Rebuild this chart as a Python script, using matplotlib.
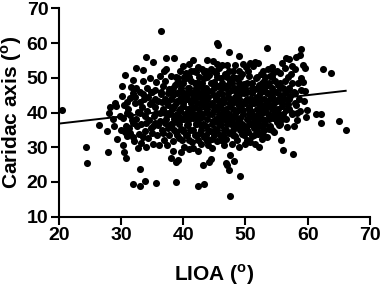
import numpy as np
import matplotlib
matplotlib.use("Agg")
import matplotlib.pyplot as plt

plt.rcParams['font.family'] = ['Liberation Sans', 'DejaVu Sans']
plt.rcParams['font.weight'] = 'bold'
plt.rcParams['mathtext.fontset'] = 'custom'
plt.rcParams['mathtext.bf'] = 'Liberation Sans:bold'
plt.rcParams['mathtext.rm'] = 'Liberation Sans:bold'

# LIOA (x) and cardiac axis (y), grouped by x band
pts = [
    # 20-29
    (20.6, 40.7), (24.4, 30.0), (24.6, 25.4), (26.4, 36.4),
    (27.7, 34.8), (28.0, 28.7), (28.1, 40.0), (28.3, 41.5), (28.8, 38.0),
    (29.0, 42.6), (29.2, 42.0), (29.3, 32.3), (28.9, 36.1),
    # 29-31
    (29.8, 39.0), (30.0, 35.0), (30.1, 47.7), (30.3, 38.3), (30.4, 30.7),
    (30.5, 28.7), (30.6, 34.3), (30.7, 50.8), (30.8, 26.8), (30.9, 33.3),
    (30.5, 42.2), (30.2, 44.8), (30.8, 36.0),
    # 31-33
    (31.2, 41.0), (31.3, 35.5), (31.5, 44.2), (31.6, 47.3), (31.7, 37.9),
    (31.9, 45.7), (31.9, 19.4), (32.0, 33.0), (32.1, 31.7), (32.2, 42.8),
    (32.4, 52.9), (32.4, 47.0), (32.5, 38.2), (32.6, 36.1), (32.8, 40.1),
    (32.9, 33.8), (32.7, 29.9), (31.5, 39.4), (32.3, 44.5), (32.0, 49.5),
    # 33-35
    (33.1, 18.8), (33.1, 23.6), (33.2, 31.2), (33.3, 36.8), (33.4, 41.6),
    (33.5, 52.3), (33.5, 45.2), (33.6, 49.0), (33.7, 43.8), (33.8, 39.1),
    (33.9, 20.4), (33.9, 34.6), (34.0, 30.2), (34.1, 55.9), (34.2, 47.0),
    (34.3, 44.5), (34.4, 32.7), (34.5, 37.8), (34.6, 42.5), (34.7, 50.0),
    (34.8, 35.6), (34.2, 40.5), (33.6, 33.0), (34.9, 45.8),
    # 35-37
    (35.1, 54.6), (35.2, 31.0), (35.3, 38.9), (35.4, 41.7), (35.5, 46.5),
    (35.6, 48.9), (35.7, 19.6), (35.8, 33.6), (35.9, 36.4), (36.0, 43.2),
    (36.1, 30.5), (36.2, 50.4), (36.3, 39.9), (36.4, 45.3), (36.5, 63.6),
    (36.6, 35.0), (36.7, 47.6), (36.8, 41.0), (36.9, 32.0), (35.5, 44.0),
    (36.3, 37.5), (36.9, 52.0), (35.2, 36.0),
    # 37-39
    (37.0, 49.2), (37.1, 44.0), (37.2, 38.1), (37.3, 55.8), (37.4, 30.7),
    (37.5, 35.5), (37.6, 42.3), (37.7, 46.9), (37.8, 33.4), (37.9, 40.0),
    (38.0, 27.0), (38.1, 50.6), (38.2, 36.8), (38.3, 44.9), (38.4, 31.8),
    (38.5, 55.8), (38.6, 39.0), (38.7, 48.0), (38.8, 20.1), (38.9, 25.7),
    (38.9, 34.5), (38.6, 42.0), (38.0, 46.0), (37.3, 52.5), (38.4, 29.0),
    # 39-41
    (39.0, 43.4), (39.1, 37.3), (39.2, 26.3), (39.2, 50.0), (39.3, 32.6),
    (39.4, 46.0), (39.5, 40.5), (39.6, 28.5), (39.7, 35.2), (39.8, 48.5),
    (39.9, 42.0), (40.0, 53.5), (40.1, 30.0), (40.2, 38.0), (40.3, 44.8),
    (40.4, 33.5), (40.5, 51.5), (40.6, 36.3), (40.7, 47.2), (40.8, 41.0),
    (40.9, 29.6), (41.0, 54.0), (40.4, 49.8), (39.6, 44.2), (40.0, 34.8),
    (40.6, 39.3), (39.3, 38.8), (40.9, 45.5),
    # 41-43
    (41.1, 35.0), (41.2, 43.6), (41.3, 49.0), (41.4, 31.5), (41.5, 38.5),
    (41.6, 55.1), (41.7, 46.0), (41.8, 41.2), (41.9, 33.6), (42.0, 51.8),
    (42.1, 36.8), (42.2, 44.4), (42.3, 18.9), (42.3, 28.8), (42.4, 53.0),
    (42.5, 40.0), (42.6, 47.7), (42.7, 34.2), (42.8, 42.6), (42.9, 31.0),
    (43.0, 52.5), (41.3, 40.3), (41.9, 48.5), (42.4, 37.8), (42.8, 45.5),
    (41.5, 29.8), (42.0, 39.2), (42.6, 50.3), (41.2, 52.0), (42.9, 36.5),
    (41.7, 44.8),
    # 43-45
    (43.1, 38.8), (43.2, 45.2), (43.2, 25.0), (43.3, 49.8), (43.4, 19.4),
    (43.4, 33.0), (43.5, 41.5), (43.6, 47.0), (43.7, 36.0), (43.8, 55.1),
    (43.9, 43.8), (44.0, 30.5), (44.1, 50.8), (44.2, 25.8), (44.2, 39.6),
    (44.3, 34.8), (44.4, 26.5), (44.4, 46.2), (44.5, 52.6), (44.6, 42.3),
    (44.7, 32.3), (44.8, 54.7), (44.8, 37.6), (44.9, 48.8), (43.6, 40.1),
    (44.0, 44.6), (43.3, 51.8), (44.6, 29.7), (43.8, 31.9), (44.9, 45.0),
    # 45-47
    (45.0, 40.8), (45.1, 35.2), (45.2, 51.5), (45.3, 44.0), (45.4, 59.9),
    (45.5, 54.1), (45.6, 59.4), (45.5, 31.8), (45.6, 47.5), (45.7, 38.7),
    (45.8, 42.5), (45.9, 33.6), (46.0, 49.8), (46.1, 36.4), (46.2, 53.8),
    (46.3, 45.4), (46.4, 40.0), (46.5, 30.6), (46.6, 43.0), (46.7, 51.0),
    (46.8, 25.4), (46.8, 35.0), (46.9, 47.0), (47.0, 24.9), (47.0, 53.8),
    (45.3, 37.6), (46.0, 41.2), (46.5, 38.2), (45.8, 52.7), (46.9, 32.5),
    # 47-49
    (47.1, 39.4), (47.2, 44.6), (47.3, 23.4), (47.3, 57.5), (47.4, 34.0),
    (47.5, 49.2), (47.6, 16.0), (47.6, 41.8), (47.7, 36.6), (47.8, 46.5),
    (47.9, 31.0), (48.0, 52.0), (48.1, 25.9), (48.1, 38.6), (48.2, 43.0),
    (48.3, 44.6), (48.4, 33.2), (48.5, 49.9), (48.6, 40.5), (48.7, 35.8),
    (48.8, 47.0), (48.9, 30.2), (49.0, 56.4), (49.0, 42.0), (49.1, 21.8),
    (47.5, 27.8), (48.4, 53.8), (47.8, 38.0), (48.8, 37.4), (47.2, 48.0),
    # 49-51
    (49.2, 38.5), (49.3, 45.5), (49.4, 33.8), (49.5, 51.0), (49.6, 54.0),
    (49.6, 40.8), (49.7, 36.2), (49.8, 48.3), (49.9, 30.8), (50.0, 43.2),
    (50.1, 53.0), (50.2, 38.0), (50.3, 46.0), (50.4, 34.5), (50.5, 41.5),
    (50.6, 50.5), (50.7, 31.5), (50.8, 54.2), (50.8, 44.0), (50.9, 36.8),
    (51.0, 48.5), (49.3, 42.3), (50.0, 35.5), (50.5, 39.6), (49.5, 47.0),
    (50.9, 40.3), (51.0, 33.2),
    # 51-53
    (51.1, 39.0), (51.2, 53.5), (51.3, 42.8), (51.4, 35.4), (51.5, 46.8),
    (51.6, 54.5), (51.6, 31.0), (51.7, 50.0), (51.8, 38.2), (51.9, 44.5),
    (52.0, 54.3), (52.0, 33.8), (52.1, 41.0), (52.2, 48.0), (52.3, 36.5),
    (52.4, 43.5), (52.5, 51.2), (52.6, 39.8), (52.7, 32.5), (52.8, 46.3),
    (52.9, 35.0), (53.0, 44.0), (51.4, 37.0), (52.2, 30.0), (52.8, 41.8),
    (53.0, 49.0),
    # 53-55
    (53.1, 40.5), (53.2, 37.8), (53.3, 47.5), (53.4, 58.5), (53.4, 43.0),
    (53.5, 33.0), (53.6, 52.6), (53.7, 45.5), (53.8, 39.2), (53.9, 50.5),
    (54.0, 36.0), (54.1, 42.0), (54.2, 53.2), (54.3, 47.0), (54.4, 38.5),
    (54.5, 44.3), (54.6, 34.5), (54.7, 49.2), (54.8, 41.0), (54.9, 46.0),
    (55.0, 37.2), (53.8, 35.3), (54.5, 51.5), (53.5, 41.5),
    # 55-57
    (55.1, 43.2), (55.2, 48.0), (55.3, 39.5), (55.5, 45.0), (55.6, 51.5),
    (55.7, 32.1), (55.8, 54.3), (55.8, 42.0), (55.9, 38.2), (56.0, 29.2),
    (56.0, 47.0), (56.2, 44.0), (56.3, 52.8), (56.5, 55.8), (56.5, 40.8),
    (56.7, 35.7), (56.8, 46.5), (57.0, 55.5), (56.9, 42.5), (55.4, 36.5),
    (56.4, 49.0),
    # 57-59
    (57.2, 44.8), (57.3, 51.0), (57.5, 40.0), (57.7, 28.1), (57.8, 36.1),
    (57.8, 46.0), (58.0, 52.5), (58.1, 42.3), (58.2, 55.9), (58.3, 39.8),
    (58.5, 48.5), (58.6, 44.0), (58.7, 56.5), (58.8, 40.5), (58.9, 50.0),
    (59.0, 58.4), (59.0, 46.5), (57.5, 53.5), (58.3, 37.8),
    # 59-61
    (59.2, 53.8), (59.3, 48.8), (59.4, 43.4), (59.5, 46.2), (59.7, 38.6),
    (59.9, 40.7), (59.5, 52.7),
    # 61+
    (61.4, 39.5), (62.1, 37.0), (62.2, 39.5), (62.4, 52.4), (63.7, 51.3),
    (65.1, 37.6), (66.1, 35.1),
]

# the dense middle of the cloud, read row by row (y value, x positions)
core_rows = {
    52.0: [39.5, 41.8, 43.6, 45.0, 47.3, 49.0, 50.4, 52.8, 55.0],
    50.2: [38.8, 40.2, 41.0, 43.8, 45.4, 47.0, 48.0, 49.2, 51.8, 53.2, 54.2, 56.8],
    48.6: [39.0, 40.0, 42.2, 43.0, 44.5, 46.2, 47.8, 49.0, 50.2, 52.6, 53.8, 55.6, 57.4],
    47.0: [38.4, 39.6, 41.0, 42.0, 43.2, 45.0, 46.3, 48.2, 49.9, 51.0, 52.0, 53.0, 55.5, 57.0],
    45.6: [37.6, 39.0, 40.2, 41.4, 42.6, 43.7, 45.8, 47.2, 48.6, 49.8, 51.0, 52.3, 53.5, 54.2, 56.3, 58.0],
    44.0: [38.0, 39.5, 40.6, 41.8, 43.0, 45.5, 46.4, 47.5, 49.0, 50.2, 51.5, 52.5, 54.0, 55.4, 57.0],
    42.6: [37.4, 38.8, 40.0, 41.2, 42.2, 43.6, 44.6, 46.0, 47.5, 48.8, 50.0, 51.0, 52.2, 53.4, 54.6, 55.8, 58.0],
    41.0: [38.2, 39.5, 41.0, 42.6, 43.8, 45.2, 46.8, 48.0, 49.2, 50.6, 51.8, 53.0, 54.2, 55.2, 57.0],
    39.6: [37.8, 39.0, 40.3, 41.6, 43.0, 44.6, 45.8, 47.3, 48.4, 49.6, 51.0, 52.0, 53.6, 54.6, 56.0, 57.5],
    38.0: [38.5, 39.8, 41.0, 42.3, 43.8, 45.2, 46.3, 47.4, 49.0, 50.4, 51.4, 52.6, 53.8, 55.0, 56.5],
    36.6: [38.0, 39.4, 40.7, 42.0, 43.2, 44.6, 45.8, 47.0, 48.2, 49.4, 50.6, 52.0, 53.2, 55.5],
    35.0: [38.6, 40.0, 41.6, 42.8, 44.0, 45.5, 46.5, 48.0, 49.2, 50.2, 51.8, 53.0, 54.2],
    33.5: [39.0, 40.6, 42.2, 43.6, 45.0, 46.4, 48.0, 49.8, 51.4, 52.8],
    32.0: [39.8, 41.0, 42.4, 44.2, 46.0, 48.6, 50.2],
    46.0: [33.0, 35.0, 36.5],
    43.0: [31.0, 33.0, 35.0, 36.6],
    40.0: [31.0, 33.0, 35.6, 37.0],
    37.0: [32.0, 34.0, 35.5, 37.0],
    34.0: [31.5, 35.0, 36.8],
}

lioa = np.array([p[0] for p in pts] + [x for xs in core_rows.values() for x in xs])
axis_deg = np.array([p[1] for p in pts] + [y for y, xs in core_rows.items() for _ in xs])

# regression line as drawn in the figure
fit_slope = 0.205
fit_intercept = 32.7

fig = plt.figure(figsize=(3.81, 2.87), dpi=100)
ax = fig.add_axes([0.154, 0.245, 0.817, 0.726])

ax.scatter(lioa, axis_deg, s=26, color='black', linewidths=0, zorder=3)
xl = np.array([20, lioa.max()])
ax.plot(xl, fit_slope * xl + fit_intercept, color='black', lw=1.4, zorder=4)

ax.set_xlim(20, 70)
ax.set_ylim(10, 70)
ax.set_xticks([20, 30, 40, 50, 60, 70])
ax.set_yticks([10, 20, 30, 40, 50, 60, 70])
ax.spines['top'].set_visible(False)
ax.spines['right'].set_visible(False)
for s in ['left', 'bottom']:
    ax.spines[s].set_linewidth(1.5)
ax.tick_params(direction='out', length=5.5, width=1.5, labelsize=14, pad=2)
for lab in ax.get_xticklabels() + ax.get_yticklabels():
    lab.set_fontweight('bold')

ax.set_xlabel(r'LIOA ($^{\mathbf{o}}$)', fontsize=15, fontweight='bold')
ax.set_ylabel(r'Caridac axis ($^{\mathbf{o}}$)', fontsize=15, fontweight='bold')
ax.xaxis.set_label_coords(0.5, -0.22)
ax.yaxis.set_label_coords(-0.112, 0.5)

fig.savefig('out.png', dpi=100)
